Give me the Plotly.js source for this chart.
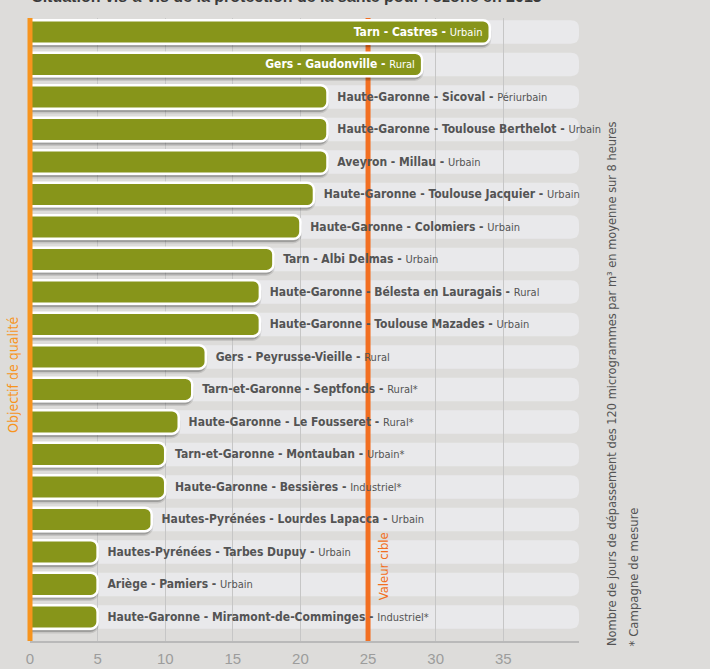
<!DOCTYPE html>
<html>
<head>
<meta charset="utf-8">
<script src="https://cdn.plot.ly/plotly-3.0.1.min.js"></script>
<style>
  html, body { margin: 0; padding: 0; background: #dddcda; }
  #chart { width: 710px; height: 669px; }
</style>
</head>
<body>
<div id="chart"></div>
<script>
// ---- data ----
const stations = [
  "Tarn - Castres",
  "Gers - Gaudonville",
  "Haute-Garonne - Sicoval",
  "Haute-Garonne - Toulouse Berthelot",
  "Aveyron - Millau",
  "Haute-Garonne - Toulouse Jacquier",
  "Haute-Garonne - Colomiers",
  "Tarn - Albi Delmas",
  "Haute-Garonne - Bélesta en Lauragais",
  "Haute-Garonne - Toulouse Mazades",
  "Gers - Peyrusse-Vieille",
  "Tarn-et-Garonne - Septfonds",
  "Haute-Garonne - Le Fousseret",
  "Tarn-et-Garonne - Montauban",
  "Haute-Garonne - Bessières",
  "Hautes-Pyrénées - Lourdes Lapacca",
  "Hautes-Pyrénées - Tarbes Dupuy",
  "Ariège - Pamiers",
  "Haute-Garonne - Miramont-de-Comminges"
];
const stationTypes = [
  "Urbain", "Rural", "Périurbain", "Urbain", "Urbain", "Urbain", "Urbain",
  "Urbain", "Rural", "Urbain", "Rural", "Rural*", "Rural*", "Urbain*",
  "Industriel*", "Urbain", "Urbain", "Urbain", "Industriel*"
];
const daysOver = [34, 29, 22, 22, 22, 21, 20, 18, 17, 17, 13, 12, 11, 10, 10, 9, 5, 5, 5];
const tickValues = [0, 5, 10, 15, 20, 25, 30, 35];
const tickLabels = ["0", "5", "10", "15", "20", "25", "30", "35"];
const targetValue = 25;   // valeur cible

const titleText = "Situation vis-à-vis de la protection de la santé pour l'ozone en 2013";
const unitText = "Nombre de jours de dépassement des 120 microgrammes par m³ en moyenne sur 8 heures";
const noteText = "* Campagne de mesure";

// ---- styling ----
const X_MAX = 40.6;
const NARROW = "'Liberation Sans Narrow', 'DejaVu Sans Condensed', 'Roboto Condensed', 'Arial Narrow', sans-serif";
const GREEN = "#87951a";
const ORANGE = "#f7941d";
const ORANGE_RED = "#f26f21";
const TEXT_GRAY = "#545454";
const BAR_W = 0.72;
const INSIDE_MIN = 26;

const labels = stations.map((s, i) => {
  const inside = daysOver[i] >= INSIDE_MIN;
  const main = `<b>${s} - </b><span style="font-size:11px">${stationTypes[i]}</span>`;
  return inside ? main + "\u00a0" : "\u00a0\u00a0" + main;
});
const textPos = daysOver.map(v => v >= INSIDE_MIN ? "inside" : "outside");
const textCol = daysOver.map(v => v >= INSIDE_MIN ? "#ffffff" : TEXT_GRAY);

const nRows = stations.length;
const yRange = [nRows - 1 + 0.74, -0.43];

// rounded track shapes (category index positions), below gridlines
const RX = 0.6, RY = 0.25;
function roundedTrack(i) {
  const x0 = 0, x1 = X_MAX, y0 = i - BAR_W / 2, y1 = i + BAR_W / 2;
  const p = [
    `M${x0 + RX},${y0}`, `L${x1 - RX},${y0}`, `Q${x1},${y0} ${x1},${y0 + RY}`,
    `L${x1},${y1 - RY}`, `Q${x1},${y1} ${x1 - RX},${y1}`, `L${x0 + RX},${y1}`,
    `Q${x0},${y1} ${x0},${y1 - RY}`, `L${x0},${y0 + RY}`, `Q${x0},${y0} ${x0 + RX},${y0}`, "Z"
  ].join(" ");
  return { type: "path", xref: "x", yref: "y", path: p, fillcolor: "#e9e9eb",
           line: { width: 0 }, layer: "below" };
}
const trackShapes = stations.map((s, i) => roundedTrack(i));

const traces = [
  { // shadows
    type: "bar", orientation: "h", y: stations, x: daysOver,
    width: BAR_W, offset: -BAR_W / 2 + 0.1,
    marker: { color: "rgba(0,0,0,0.20)", cornerradius: 8, line: { color: "rgba(0,0,0,0.10)", width: 3 } },
    hoverinfo: "skip", showlegend: false
  },
  { // data bars
    type: "bar", orientation: "h", y: stations, x: daysOver,
    width: BAR_W,
    marker: { color: GREEN, cornerradius: 7, line: { color: "#ffffff", width: 2.5 } },
    text: labels, textposition: textPos, insidetextanchor: "end",
    textfont: { family: NARROW, size: 12, color: textCol },
    constraintext: "none", cliponaxis: false, textangle: 0,
    hoverinfo: "skip", showlegend: false
  }
];

const layout = {
  width: 710, height: 669,
  margin: { l: 30, r: 131, t: 18, b: 28, pad: 0 },
  paper_bgcolor: "#dddcda", plot_bgcolor: "rgba(0,0,0,0)",
  barmode: "overlay", bargap: 0,
  showlegend: false,
  font: { family: NARROW, color: TEXT_GRAY },
  xaxis: {
    range: [0, X_MAX], tickvals: tickValues, ticktext: tickLabels,
    showgrid: true, gridcolor: "#c6c6c6", gridwidth: 1, zeroline: false,
    showline: true, linecolor: "#b9b9b9", linewidth: 1.5, ticks: "",
    ticklabelstandoff: 3,
    tickfont: { family: "'Liberation Sans', Arial, sans-serif", size: 15, color: "#9c9c9c" },
    fixedrange: true
  },
  yaxis: {
    type: "category", categoryorder: "array", categoryarray: stations,
    range: yRange, showticklabels: false, showgrid: false, zeroline: false,
    showline: false, ticks: "", fixedrange: true
  },
  shapes: trackShapes.concat([
    { type: "line", xref: "x", yref: "y", x0: targetValue, x1: targetValue,
      y0: yRange[0], y1: yRange[1],
      line: { color: ORANGE_RED, width: 5 }, layer: "between" },
    { type: "line", xref: "paper", yref: "paper", x0: 0, x1: 0, y0: 0, y1: 1,
      line: { color: ORANGE, width: 5 }, layer: "above" }
  ]),
  annotations: [
    { text: `<b>${titleText}</b>`, xref: "paper", yref: "paper", x: 0, y: 1.0177,
      xanchor: "left", yanchor: "bottom", showarrow: false,
      font: { family: "'Liberation Sans', Arial, sans-serif", size: 16, color: "#3a3a3a" } },
    { text: "Objectif de qualité", xref: "paper", yref: "paper", x: -0.031, y: 0.427,
      xanchor: "center", yanchor: "middle", textangle: -90, showarrow: false,
      font: { family: NARROW, size: 14, color: ORANGE } },
    { text: "Valeur cible", xref: "x", yref: "paper", x: targetValue, y: 0.12, xshift: 15,
      xanchor: "center", yanchor: "middle", textangle: -90, showarrow: false,
      font: { family: NARROW, size: 13, color: ORANGE_RED } },
    { text: unitText, xref: "paper", yref: "paper", x: 1.06, y: -0.0112,
      xanchor: "center", yanchor: "bottom", textangle: -90, showarrow: false,
      font: { family: NARROW, size: 12.7, color: TEXT_GRAY } },
    { text: noteText, xref: "paper", yref: "paper", x: 1.10, y: -0.0112,
      xanchor: "center", yanchor: "bottom", textangle: -90, showarrow: false,
      font: { family: NARROW, size: 13, color: TEXT_GRAY } }
  ]
};

Plotly.newPlot("chart", traces, layout, { displayModeBar: false, staticPlot: true });
</script>
</body>
</html>
